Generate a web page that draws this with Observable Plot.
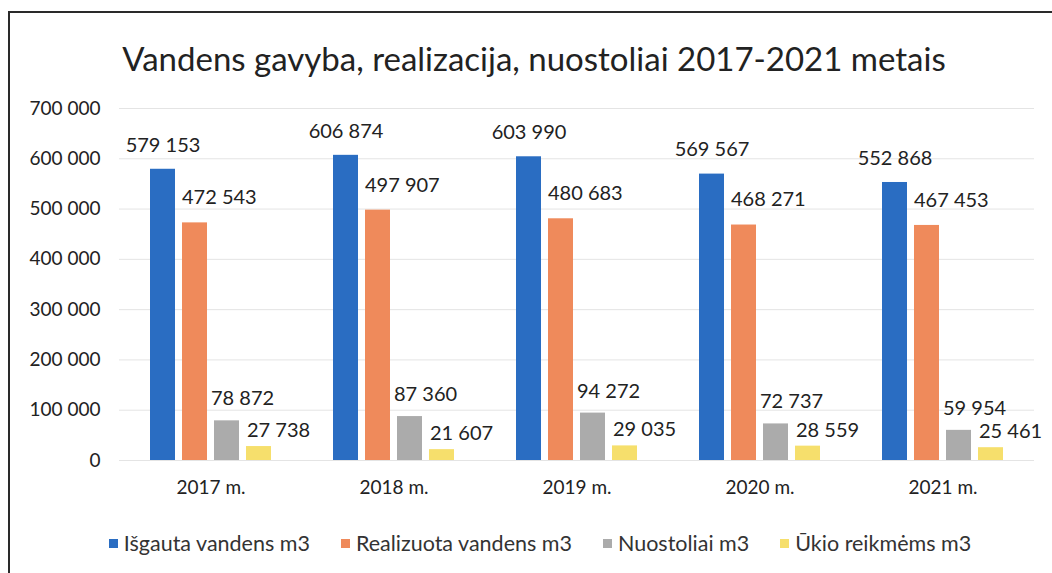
<!DOCTYPE html>
<html>
<head>
<meta charset="utf-8">
<script src="https://cdn.jsdelivr.net/npm/d3@7"></script>
<script src="https://cdn.jsdelivr.net/npm/@observablehq/plot@0.6"></script>
<style>
  html, body { margin: 0; padding: 0; background: #fff; overflow: hidden; }
  body { width: 1052px; height: 573px; position: relative; font-family: Lato, "Open Sans", sans-serif; color: #222; }
  #frame { position: absolute; left: 8px; top: 11px; width: 1100px; height: 600px; border-left: 2px solid #2a2a2a; border-top: 2px solid #2a2a2a; }
  #title { position: absolute; left: 0; top: 38px; width: 1068px; text-align: center; font-size: 33px; line-height: 40px; color: #222; white-space: nowrap; }
  #chart { position: absolute; left: 0; top: 90px; }
  #legend { position: absolute; left: 0; top: 530px; width: 1080px; display: flex; justify-content: center; gap: 31px; font-size: 21.5px; line-height: 26px; color: #333; white-space: nowrap; }
  #legend .item { display: flex; align-items: center; gap: 6px; }
  #legend .sw { width: 9px; height: 9px; display: inline-block; }
</style>
</head>
<body>
<div id="frame"></div>
<div id="title">Vandens gavyba, realizacija, nuostoliai 2017-2021 metais</div>
<div id="chart"></div>
<div id="legend"></div>
<script>
// ---- data ----
const years = ["2017 m.", "2018 m.", "2019 m.", "2020 m.", "2021 m."];
const series = ["Išgauta vandens m3", "Realizuota vandens m3", "Nuostoliai m3", "Ūkio reikmėms m3"];
const isgauta = [579153, 606874, 603990, 569567, 552868];
const realizuota = [472543, 497907, 480683, 468271, 467453];
const nuostoliai = [78872, 87360, 94272, 72737, 59954];
const ukio = [27738, 21607, 29035, 28559, 25461];
const yTicks = [0, 100000, 200000, 300000, 400000, 500000, 600000, 700000];

// ---- styles ----
const colors = ["#2a6dc2", "#ef8a5b", "#ababab", "#f6df6c"];
const labelStyle = [
  {anchor: "middle", dx: 0, dy: -24},
  {anchor: "start", dx: -13, dy: -25},
  {anchor: "start", dx: -16, dy: -22},
  {anchor: "start", dx: -12, dy: -16}
];

const seriesValues = [isgauta, realizuota, nuostoliai, ukio];
const table = [];
years.forEach((yr, i) => {
  series.forEach((s, j) => {
    table.push({year: yr, series: s, value: seriesValues[j][i]});
  });
});

const fmt = v => d3.format(",")(v).replace(/,/g, " ");

const textMarks = series.map((s, j) => Plot.text(table.filter(d => d.series === s), {
  fx: "year", x: "series", y: "value",
  text: d => fmt(d.value),
  textAnchor: labelStyle[j].anchor,
  dx: labelStyle[j].dx, dy: labelStyle[j].dy,
  fontSize: 20, fill: "#222",
  lineAnchor: "middle"
}));

const chart = Plot.plot({
  width: 1052,
  height: 420,
  marginLeft: 118,
  marginRight: 18,
  marginTop: 18,
  marginBottom: 50,
  style: {fontFamily: "Lato, 'Open Sans', sans-serif", fontSize: "19px", color: "#222", background: "transparent", overflow: "visible"},
  fx: {domain: years, padding: 0, label: null, axis: "bottom", tickSize: 0, tickPadding: 20},
  x: {domain: series, axis: null, paddingInner: 0.212, paddingOuter: 0.879},
  y: {domain: [0, 700000], ticks: yTicks, tickFormat: fmt, tickSize: 0, tickPadding: 19, label: null},
  color: {domain: series, range: colors},
  marks: [
    Plot.gridY(yTicks, {stroke: "#e4e4e4", strokeOpacity: 1}),
    Plot.barY(table, {fx: "year", x: "series", y: "value", fill: "series"}),
    ...textMarks
  ]
});
document.getElementById("chart").appendChild(chart);

const legend = document.getElementById("legend");
series.forEach((s, j) => {
  const item = document.createElement("div");
  item.className = "item";
  const sw = document.createElement("span");
  sw.className = "sw";
  sw.style.background = colors[j];
  const t = document.createElement("span");
  t.textContent = s;
  item.appendChild(sw);
  item.appendChild(t);
  legend.appendChild(item);
});
</script>
</body>
</html>
